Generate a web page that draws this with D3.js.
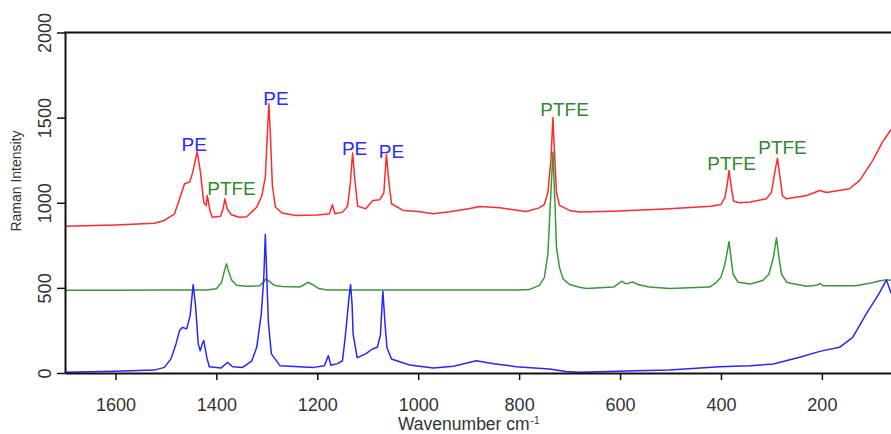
<!DOCTYPE html>
<html>
<head>
<meta charset="utf-8">
<script src="https://cdn.jsdelivr.net/npm/d3@7"></script>
<style>
  body { margin: 0; background: #fff; }
  svg { display: block; font-family: "Liberation Sans", Arial, sans-serif; }
</style>
</head>
<body>
<svg id="chart" width="891" height="434"></svg>
<script>
// spectra: [wavenumber, intensity]
const redSpectrum = [
  [1700, 862], [1600, 870], [1523, 880], [1503, 896], [1483, 935], [1473, 1022], [1463, 1112],
  [1453, 1122], [1447, 1177], [1438, 1300], [1432, 1189], [1425, 1002], [1420, 984], [1418, 1043],
  [1412, 945], [1408, 915], [1392, 920], [1387, 960], [1383, 1023], [1378, 960], [1370, 930],
  [1355, 915], [1340, 918], [1320, 974], [1310, 1040], [1303, 1150], [1299, 1400], [1296, 1582],
  [1293, 1400], [1289, 1100], [1283, 975], [1270, 940], [1242, 925], [1200, 928], [1176, 935],
  [1170, 988], [1165, 935], [1150, 945], [1140, 980], [1135, 1100], [1130, 1292], [1126, 1150],
  [1120, 980], [1104, 965], [1090, 1013], [1076, 1018], [1068, 1060], [1063, 1284], [1059, 1150],
  [1053, 994], [1030, 955], [1000, 948], [970, 935], [938, 947], [900, 965], [878, 978],
  [838, 970], [786, 949], [760, 970], [750, 990], [743, 1060], [737, 1250], [733, 1500],
  [730, 1300], [726, 1060], [720, 985], [700, 955], [680, 945], [613, 950], [502, 965],
  [420, 980], [400, 990], [392, 1030], [387, 1120], [384, 1190], [380, 1100], [375, 1010],
  [363, 1000], [342, 1005], [310, 1023], [300, 1060], [292, 1200], [288, 1262], [283, 1150],
  [278, 1040], [270, 1023], [230, 1043], [204, 1072], [191, 1060], [145, 1082], [125, 1131],
  [99, 1249], [80, 1356], [63, 1430]
];

const greenSpectrum = [
  [1700, 486], [1600, 486], [1500, 487], [1420, 488], [1400, 495], [1390, 530], [1384, 600],
  [1380, 641], [1376, 600], [1370, 547], [1360, 515], [1340, 510], [1315, 512], [1306, 535],
  [1302, 553], [1296, 540], [1285, 515], [1270, 508], [1235, 505], [1225, 520], [1218, 533],
  [1210, 520], [1197, 496], [1181, 488], [1000, 488], [800, 488], [780, 490], [760, 515],
  [750, 560], [743, 700], [738, 1000], [733, 1298], [729, 1000], [726, 739], [720, 620],
  [713, 553], [700, 520], [680, 504], [667, 496], [613, 505], [603, 525], [597, 539],
  [590, 526], [587, 525], [575, 535], [565, 520], [542, 505], [502, 496], [423, 505],
  [410, 530], [400, 563], [392, 640], [384, 772], [379, 650], [376, 580], [366, 533],
  [342, 523], [317, 543], [305, 580], [296, 680], [290, 794], [285, 680], [280, 580],
  [270, 535], [262, 527], [230, 510], [210, 515], [204, 527], [198, 513], [133, 513],
  [100, 530], [87, 540], [73, 547], [63, 545]
];

const blueSpectrum = [
  [1700, 4], [1602, 10], [1523, 17], [1503, 33], [1490, 83], [1480, 171], [1473, 249],
  [1467, 268], [1459, 259], [1452, 337], [1446, 519], [1441, 386], [1436, 171], [1432, 131],
  [1427, 180], [1425, 190], [1419, 92], [1414, 37], [1391, 29], [1378, 62], [1368, 37],
  [1348, 33], [1330, 70], [1320, 151], [1311, 347], [1306, 560], [1303, 814], [1300, 560],
  [1297, 300], [1291, 112], [1274, 43], [1207, 33], [1186, 43], [1178, 102], [1173, 45],
  [1160, 55], [1150, 72], [1144, 229], [1137, 450], [1134, 519], [1131, 400], [1129, 229],
  [1121, 90], [1104, 112], [1091, 141], [1081, 151], [1075, 220], [1070, 480], [1066, 300],
  [1062, 150], [1053, 82], [1017, 47], [970, 29], [930, 40], [885, 72], [850, 55],
  [806, 37], [740, 23], [707, 9], [680, 4], [568, 13], [502, 17], [403, 37], [342, 43],
  [296, 53], [244, 92], [204, 127], [165, 151], [139, 209], [112, 347], [87, 465],
  [72, 547], [63, 470]
];

// peak annotations
const peakLabels = ["PE", "PTFE", "PE", "PE", "PE", "PTFE", "PTFE", "PTFE"];
const peakWave = [1444, 1370, 1282, 1126, 1053, 710, 379, 278];
const peakInt = [1304, 1043, 1572, 1278, 1262, 1508, 1190, 1284];

const xTicks = [1600, 1400, 1200, 1000, 800, 600, 400, 200];
const yTicks = [0, 500, 1000, 1500, 2000];

const plotLeft = 65, plotRight = 891, plotTop = 32.5, plotBottom = 373;

const svg = d3.select("#chart");

const x = d3.scaleLinear().domain([1700, 63]).range([plotLeft, plotRight]);
const y = d3.scaleLinear().domain([0, 2000]).range([plotBottom, plotTop]);

svg.append("clipPath").attr("id", "plot")
  .append("rect")
  .attr("x", plotLeft).attr("y", plotTop)
  .attr("width", plotRight - plotLeft).attr("height", plotBottom - plotTop);

const line = d3.line()
  .x(d => x(d[0]))
  .y(d => y(d[1]));

const series = [
  { data: redSpectrum, color: "#ff2a2a" },
  { data: greenSpectrum, color: "#379a37" },
  { data: blueSpectrum, color: "#2626ff" }
];

svg.append("g")
  .attr("clip-path", "url(#plot)")
  .selectAll("path")
  .data(series)
  .enter()
  .append("path")
  .attr("d", d => line(d.data))
  .attr("fill", "none")
  .attr("stroke", d => d.color)
  .attr("stroke-width", 1.5)
  .attr("stroke-linejoin", "round");

// x axis
const xAxis = svg.append("g")
  .attr("transform", `translate(0,${plotBottom})`)
  .call(d3.axisBottom(x).tickValues(xTicks).tickFormat(d3.format("d"))
    .tickSize(7).tickSizeOuter(0));
xAxis.select(".domain").attr("stroke", "#111").attr("stroke-width", 2);
xAxis.selectAll(".tick line").attr("stroke", "#111").attr("stroke-width", 1.5);
xAxis.selectAll(".tick text")
  .attr("y", 38).attr("dy", 0)
  .attr("font-size", 18).attr("fill", "#333");

// y axis
const yAxis = svg.append("g")
  .attr("transform", `translate(${plotLeft},0)`)
  .call(d3.axisLeft(y).tickValues(yTicks).tickFormat(d3.format("d"))
    .tickSize(8).tickSizeOuter(0));
yAxis.select(".domain").attr("stroke", "#111").attr("stroke-width", 2);
yAxis.selectAll(".tick line").attr("stroke", "#111").attr("stroke-width", 1.5);
yAxis.selectAll(".tick text")
  .attr("transform", "rotate(-90)")
  .attr("x", 0).attr("y", -14).attr("dy", 0)
  .attr("text-anchor", "middle")
  .attr("font-size", 18).attr("fill", "#333");

// top frame line
svg.append("line")
  .attr("x1", plotLeft - 1).attr("x2", plotRight)
  .attr("y1", plotTop).attr("y2", plotTop)
  .attr("stroke", "#111").attr("stroke-width", 2);

// axis titles
const xTitle = svg.append("text")
  .attr("x", 398).attr("y", 430)
  .attr("font-size", 17.5).attr("fill", "#333")
  .text("Wavenumber cm");
const titleEnd = 398 + xTitle.node().getComputedTextLength();
svg.append("text")
  .attr("x", titleEnd + 1).attr("y", 424)
  .attr("font-size", 10).attr("fill", "#333")
  .text("-1");

svg.append("text")
  .attr("transform", "translate(21,181) rotate(-90)")
  .attr("text-anchor", "middle")
  .attr("font-size", 14).attr("fill", "#333")
  .text("Raman Intensity");

// peak labels
svg.append("g")
  .selectAll("text")
  .data(peakLabels)
  .enter()
  .append("text")
  .attr("x", (d, i) => x(peakWave[i]))
  .attr("y", (d, i) => y(peakInt[i]))
  .attr("text-anchor", "middle")
  .attr("font-size", 19)
  .attr("fill", d => d === "PE" ? "#2b2bff" : "#2e8b2e")
  .text(d => d);
</script>
</body>
</html>
